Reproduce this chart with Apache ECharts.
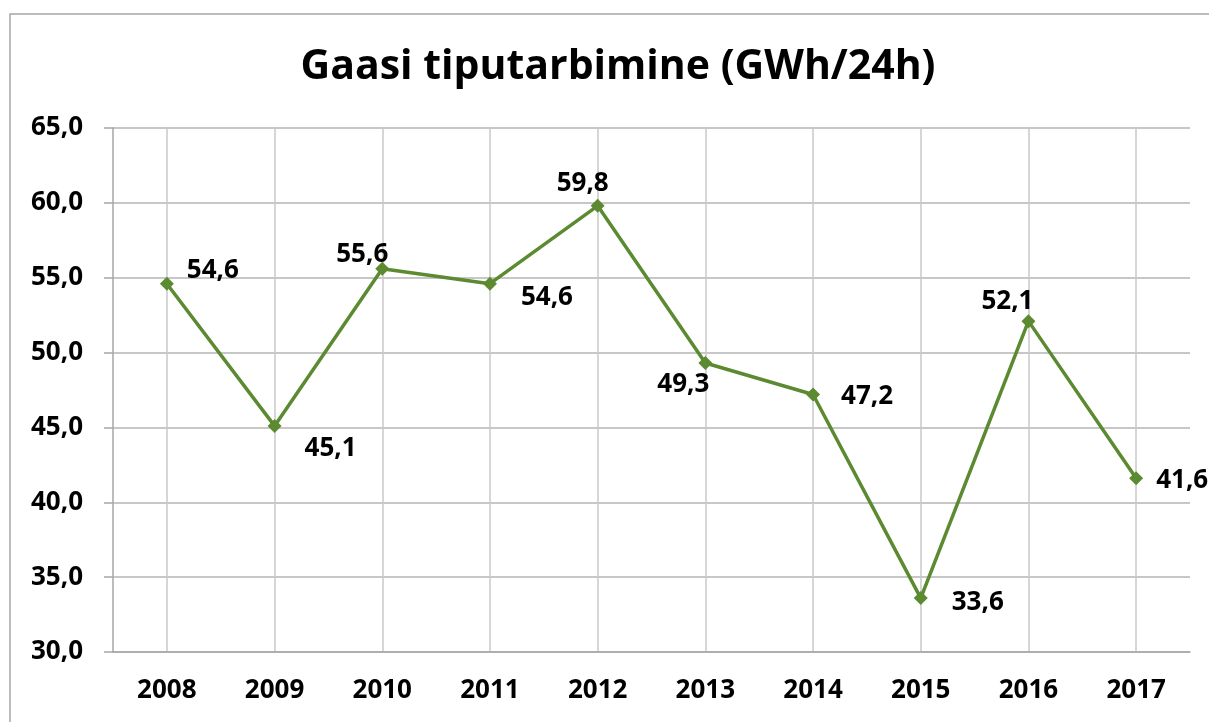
<!DOCTYPE html>
<html>
<head>
<meta charset="utf-8">
<script src="https://cdn.jsdelivr.net/npm/echarts@6/dist/echarts.min.js"></script>
<style>
  html, body { margin: 0; padding: 0; background: #fff; }
  #chart { width: 1209px; height: 722px; }
</style>
</head>
<body>
<div id="chart"></div>
<script>
var years = ['2008', '2009', '2010', '2011', '2012', '2013', '2014', '2015', '2016', '2017'];
var peakUse = [54.6, 45.1, 55.6, 54.6, 59.8, 49.3, 47.2, 33.6, 52.1, 41.6];
// where each value label sits around its point
var labelPos = ['right', 'right', 'top', 'right', 'top', 'bottom', 'right', 'right', 'top', 'right'];
var labelOff = [[8, -13], [18, 23], [-20, 11], [19, 14], [-15, 3], [-22, -3], [16, 2], [19, 4], [-21, 5], [8, 2]];

var fmt = function(v) { return v.toFixed(1).replace('.', ','); };

// half-step axis, used only to draw the vertical lines through category centres
var halfSteps = [];
for (var i = 0; i <= years.length * 2; i++) halfSteps.push(String(i));

var myChart = echarts.init(document.getElementById('chart'));
var option = {
  textStyle: { fontFamily: '"Open Sans", sans-serif' },
  graphic: [{
    type: 'rect',
    shape: { x: 10, y: 14, width: 1400, height: 900 },
    style: { fill: 'none', stroke: '#a6a6a6', lineWidth: 1.5 },
    z: -1
  }],
  title: {
    text: 'Gaasi tiputarbimine (GWh/24h)',
    left: 613,
    top: 42,
    textAlign: 'center',
    textStyle: { fontSize: 41, fontWeight: 'bold', color: '#000', fontFamily: '"Open Sans", sans-serif' }
  },
  grid: { left: 113, right: 19, top: 128, bottom: 70 },
  xAxis: [{
    type: 'category',
    data: years,
    boundaryGap: true,
    axisLine: { lineStyle: { color: '#a6a6a6', width: 1.5 } },
    axisTick: { length: 10, lineStyle: { color: '#a6a6a6', width: 1.5 } },
    axisLabel: { color: '#000', fontSize: 26, fontWeight: 'bold', margin: 26 },
    splitLine: { show: false }
  }, {
    type: 'category',
    data: halfSteps,
    boundaryGap: false,
    position: 'bottom',
    axisLine: { show: false },
    axisTick: { show: false },
    axisLabel: { show: false },
    splitLine: {
      show: true,
      interval: function(idx) { return idx % 2 === 1; },
      lineStyle: { color: '#c8c8c8', width: 1.5 }
    }
  }],
  yAxis: {
    type: 'value',
    min: 30,
    max: 65,
    interval: 5,
    axisLine: { show: true, lineStyle: { color: '#a6a6a6', width: 1.5 } },
    axisTick: { show: true, length: 9, lineStyle: { color: '#a6a6a6', width: 1.5 } },
    axisLabel: { color: '#000', fontSize: 26, fontWeight: 'bold', margin: 30, formatter: fmt },
    splitLine: { lineStyle: { color: '#b4b4b4', width: 1.5 } }
  },
  series: [{
    type: 'line',
    xAxisIndex: 0,
    data: peakUse.map(function(v, i) {
      return {
        value: v,
        label: { position: labelPos[i], offset: labelOff[i] }
      };
    }),
    symbol: 'diamond',
    symbolSize: 14,
    lineStyle: { color: '#5b8a31', width: 3.5 },
    itemStyle: { color: '#5b8a31' },
    label: {
      show: true,
      color: '#000',
      fontSize: 26,
      fontWeight: 'bold',
      formatter: function(p) { return fmt(p.value); }
    },
    animation: false
  }]
};
myChart.setOption(option);
</script>
</body>
</html>
